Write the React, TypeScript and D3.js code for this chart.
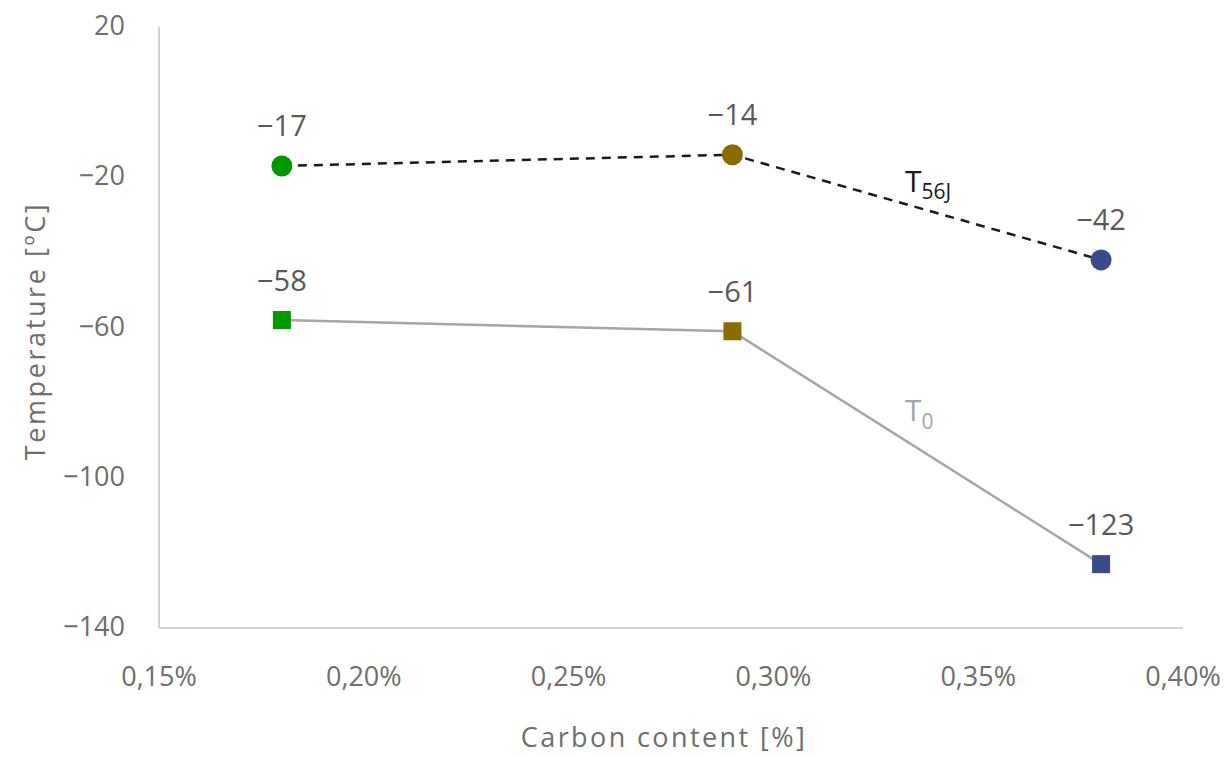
import React from "react";
import * as d3 from "d3";

const carbon = [0.0018, 0.0029, 0.0038];
const t56j = [-17, -14, -42];
const t0 = [-58, -61, -123];
const markerColors = ["#009900", "#8B6B00", "#3B4A8A"];
const yTicks = [20, -20, -60, -100, -140];
const xTicks = [0.0015, 0.002, 0.0025, 0.003, 0.0035, 0.004];

const W = 1228;
const H = 757;
const FONT = "'Open Sans', 'DejaVu Sans', sans-serif";

export default function App() {
  const x = d3.scaleLinear().domain([0.0015, 0.004]).range([159, 1183]);
  const y = d3.scaleLinear().domain([-140, 20]).range([628, 27]);
  const fmtX = (v: number) => (v * 100).toFixed(2).replace(".", ",") + "%";
  const fmtY = (v: number) => (v < 0 ? "\u2212" + Math.abs(v) : String(v));

  const line = d3
    .line<number>()
    .x((_, i) => x(carbon[i]))
    .y((d) => y(d));

  const sq = 18;

  return (
    <svg width={W} height={H} style={{ position: "absolute", left: 0, top: 0, background: "#fff" }}>
      <line x1={x(0.0015)} x2={x(0.0015)} y1={y(20)} y2={y(-140)} stroke="#d4d4d4" strokeWidth={2} />
      <line x1={x(0.0015)} x2={x(0.004)} y1={y(-140)} y2={y(-140)} stroke="#d4d4d4" strokeWidth={2} />

      {yTicks.map((t) => (
        <text key={t} x={125} y={y(t)} dy="0.3em" textAnchor="end" fontFamily={FONT} fontSize={27} fill="#6e6e6e">
          {fmtY(t)}
        </text>
      ))}
      {xTicks.map((t) => (
        <text key={t} x={x(t)} y={686} textAnchor="middle" fontFamily={FONT} fontSize={27} fill="#6e6e6e">
          {fmtX(t)}
        </text>
      ))}

      <text
        transform={`translate(45,331) rotate(-90)`}
        textAnchor="middle"
        fontFamily={FONT}
        fontSize={27}
        letterSpacing={2.6}
        fill="#6e6e6e"
      >
        Temperature [ºC]
      </text>
      <text x={664} y={747} textAnchor="middle" fontFamily={FONT} fontSize={27} letterSpacing={2.4} fill="#6e6e6e">
        Carbon content [%]
      </text>

      <path d={line(t0) || ""} fill="none" stroke="#a6a6a6" strokeWidth={2.5} />
      <path d={line(t56j) || ""} fill="none" stroke="#1a1a1a" strokeWidth={2.5} strokeDasharray="9,7" />

      {t0.map((v, i) => (
        <rect
          key={"s" + i}
          x={x(carbon[i]) - sq / 2}
          y={y(v) - sq / 2}
          width={sq}
          height={sq}
          fill={markerColors[i]}
        />
      ))}
      {t56j.map((v, i) => (
        <circle key={"c" + i} cx={x(carbon[i])} cy={y(v)} r={10.5} fill={markerColors[i]} />
      ))}

      {t56j.map((v, i) => (
        <text key={"l1" + i} x={x(carbon[i])} y={y(v) - 30} textAnchor="middle" fontFamily={FONT} fontSize={29} fill="#595959">
          {fmtY(v)}
        </text>
      ))}
      {t0.map((v, i) => (
        <text key={"l2" + i} x={x(carbon[i])} y={y(v) - 29} textAnchor="middle" fontFamily={FONT} fontSize={29} fill="#595959">
          {fmtY(v)}
        </text>
      ))}

      <text x={905} y={192} fontFamily={FONT} fontSize={30} fill="#1a1a1a">
        T<tspan fontSize={21} dy={7}>56J</tspan>
      </text>
      <text x={905} y={421} fontFamily={FONT} fontSize={30} fill="#a6a6a6">
        T<tspan fontSize={21} dy={8}>0</tspan>
      </text>
    </svg>
  );
}
